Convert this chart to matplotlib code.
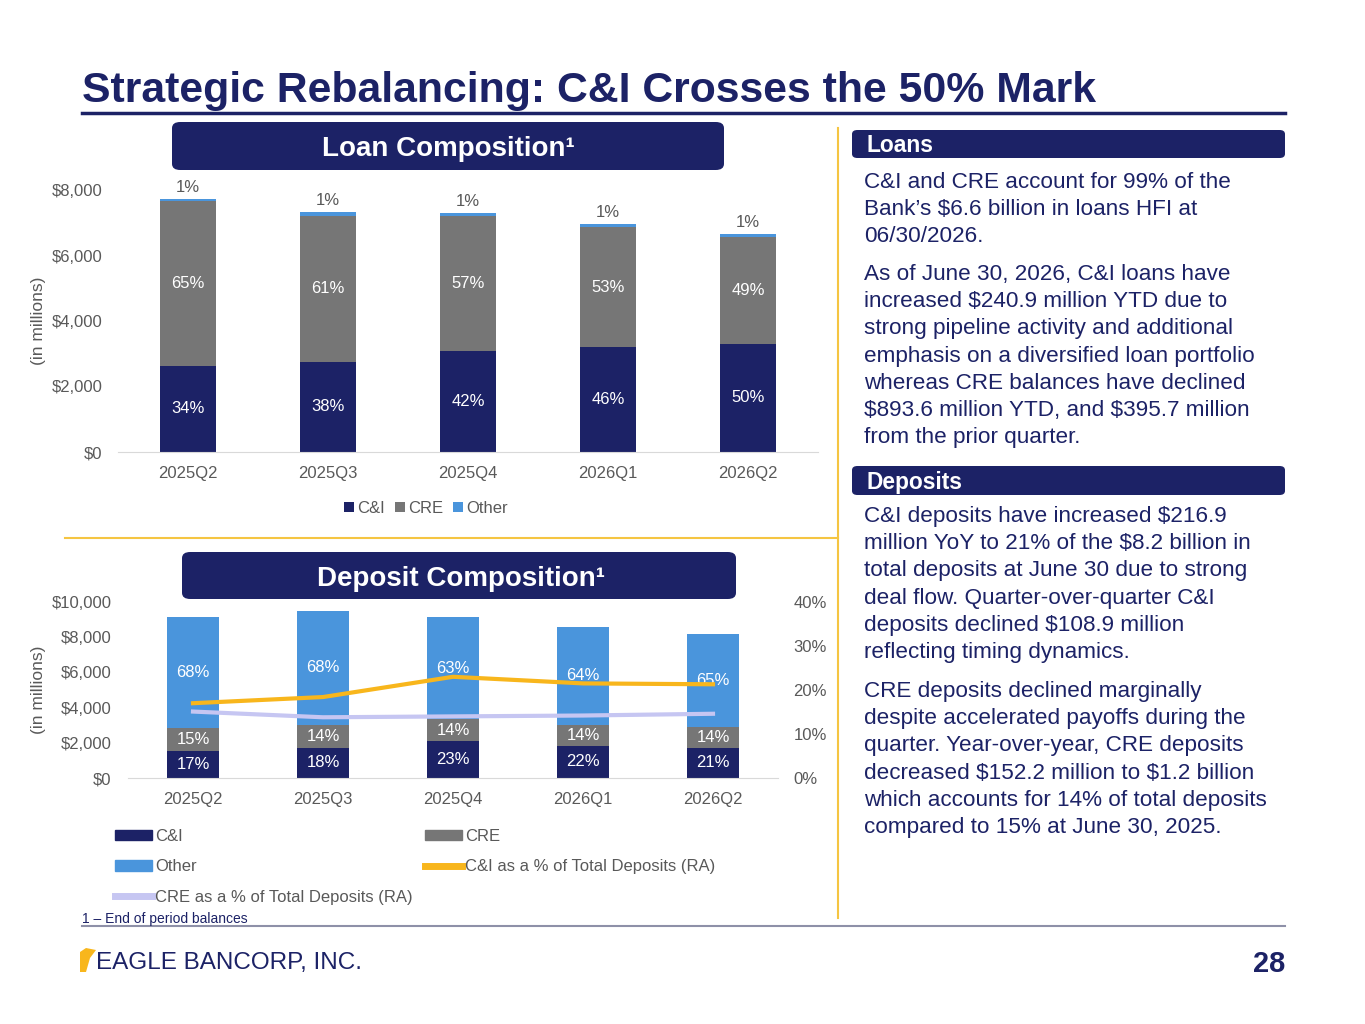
import numpy as np
import matplotlib
matplotlib.use("Agg")
import matplotlib.pyplot as plt
from matplotlib.patches import FancyBboxPatch, Patch, Polygon
from matplotlib.lines import Line2D

# data
quarters = ["2025Q2", "2025Q3", "2025Q4", "2026Q1", "2026Q2"]

loan_ci = [2640, 2760, 3070, 3210, 3300]
loan_cre = [5010, 4450, 4140, 3650, 3250]
loan_other = [80, 110, 80, 90, 100]
loan_ci_lbl = ["34%", "38%", "42%", "46%", "50%"]
loan_cre_lbl = ["65%", "61%", "57%", "53%", "49%"]
loan_other_lbl = ["1%", "1%", "1%", "1%", "1%"]

dep_ci = [1520, 1730, 2085, 1840, 1730]
dep_cre = [1320, 1280, 1270, 1170, 1170]
dep_other = [6290, 6480, 5780, 5590, 5300]
dep_ci_lbl = ["17%", "18%", "23%", "22%", "21%"]
dep_cre_lbl = ["15%", "14%", "14%", "14%", "14%"]
dep_other_lbl = ["68%", "68%", "63%", "64%", "65%"]
ci_pct = [17.0, 18.4, 23.0, 21.5, 21.3]
cre_pct = [15.1, 13.8, 14.0, 14.2, 14.6]

NAVY = "#1c2266"
GRAY = "#767676"
BLUE = "#4a95dc"
GOLD = "#f8b61c"
LAV = "#c6c6f2"
TXT = "#595959"
FONT = "Liberation Sans"

plt.rcParams["font.family"] = FONT

W, H = 1365, 1024
fig = plt.figure(figsize=(W / 100, H / 100), dpi=100)


def fx(x):
    return x / W


def fy(y):
    return 1 - y / H


def ftext(x, y, s, **kw):
    fig.text(fx(x), fy(y), s, **kw)


# title and rules
ftext(82, 102, "Strategic Rebalancing: C&I Crosses the 50% Mark", fontsize=30.8,
      fontweight="bold", color=NAVY, va="baseline")
fig.add_artist(Line2D([fx(82), fx(1285)], [fy(113), fy(113)], color=NAVY, lw=2.5))
fig.add_artist(Line2D([fx(838), fx(838)], [fy(128), fy(918)], color="#f5c542", lw=1.5))
fig.add_artist(Line2D([fx(65), fx(838)], [fy(538), fy(538)], color="#f5c542", lw=1.5))
fig.add_artist(Line2D([fx(82), fx(1285)], [fy(926), fy(926)], color="#8e90a8", lw=1.5))


def navy_box(x0, y0, x1, y1, r=0.006):
    fig.add_artist(FancyBboxPatch((fx(x0), fy(y1)), fx(x1 - x0), (y1 - y0) / H,
                                  boxstyle="round,pad=0,rounding_size=%f" % r,
                                  fc=NAVY, ec="none", transform=fig.transFigure))


navy_box(172, 122, 724, 170)
ftext(448, 156, "Loan Composition\u00b9", fontsize=20, fontweight="bold", color="white",
      ha="center", va="baseline")
navy_box(182, 552, 736, 599)
ftext(461, 586, "Deposit Composition\u00b9", fontsize=20, fontweight="bold", color="white",
      ha="center", va="baseline")

# ---- loan chart
x = np.arange(len(quarters))
ax1 = fig.add_axes([fx(118), fy(452), fx(700), 262 / H])
b1 = ax1.bar(x, loan_ci, 0.4, color=NAVY, label="C&I")
b2 = ax1.bar(x, loan_cre, 0.4, bottom=loan_ci, color=GRAY, label="CRE")
bot = np.array(loan_ci) + np.array(loan_cre)
b3 = ax1.bar(x, loan_other, 0.4, bottom=bot, color=BLUE, label="Other")
ax1.bar_label(b1, labels=loan_ci_lbl, label_type="center", color="white", fontsize=12)
ax1.bar_label(b2, labels=loan_cre_lbl, label_type="center", color="white", fontsize=12)
ax1.bar_label(b3, labels=loan_other_lbl, padding=3, color=TXT, fontsize=12)
ax1.set_xlim(-0.5, 4.5)
ax1.set_ylim(0, 8000)
ax1.set_yticks([0, 2000, 4000, 6000, 8000])
ax1.set_yticklabels(["$0", "$2,000", "$4,000", "$6,000", "$8,000"])
ax1.set_xticks(x)
ax1.set_xticklabels(quarters)
ax1.set_ylabel("(in millions)", fontsize=12.5, color=TXT, labelpad=4)
ax1.legend(loc="upper center", bbox_to_anchor=(0.44, -0.13), ncol=3, frameon=False,
           handlelength=0.6, handleheight=0.6, handletextpad=0.2, columnspacing=0.6,
           prop={"size": 12}, labelcolor=TXT)

# ---- deposit chart
ax2 = fig.add_axes([fx(128), fy(778), fx(650), 176 / H])
d1 = ax2.bar(x, dep_ci, 0.4, color=NAVY, label="C&I")
d2 = ax2.bar(x, dep_cre, 0.4, bottom=dep_ci, color=GRAY, label="CRE")
dbot = np.array(dep_ci) + np.array(dep_cre)
d3 = ax2.bar(x, dep_other, 0.4, bottom=dbot, color=BLUE, label="Other")
ax2.bar_label(d1, labels=dep_ci_lbl, label_type="center", color="white", fontsize=12)
ax2.bar_label(d2, labels=dep_cre_lbl, label_type="center", color="white", fontsize=12)
ax2.bar_label(d3, labels=dep_other_lbl, label_type="center", color="white", fontsize=12)
ax2.set_xlim(-0.5, 4.5)
ax2.set_ylim(0, 10000)
ax2.set_yticks([0, 2000, 4000, 6000, 8000, 10000])
ax2.set_yticklabels(["$0", "$2,000", "$4,000", "$6,000", "$8,000", "$10,000"])
ax2.set_xticks(x)
ax2.set_xticklabels(quarters)
ax2.set_ylabel("(in millions)", fontsize=12.5, color=TXT, labelpad=4)

ax3 = ax2.twinx()
l1, = ax3.plot(x, ci_pct, color=GOLD, lw=3, label="C&I as a % of Total Deposits (RA)")
l2, = ax3.plot(x, cre_pct, color=LAV, lw=3, label="CRE as a % of Total Deposits (RA)")
ax3.set_ylim(0, 40)
ax3.set_yticks([0, 10, 20, 30, 40])
ax3.set_yticklabels(["0%", "10%", "20%", "30%", "40%"])

for ax in (ax1, ax2, ax3):
    for s in ("top", "right", "left"):
        ax.spines[s].set_visible(False)
    ax.spines["bottom"].set_color("#d9d9d9")
    ax.tick_params(length=0, colors=TXT, labelsize=12)
ax1.tick_params(axis="x", pad=10)
ax1.tick_params(axis="y", pad=11)
ax2.tick_params(axis="x", pad=10)
ax2.tick_params(axis="y", pad=12)
ax3.spines["bottom"].set_visible(False)
ax3.tick_params(axis="y", pad=11)

leg_kw = dict(frameon=False, handlelength=2.2, handleheight=0.6, handletextpad=0.2,
              labelspacing=0.92, prop={"size": 12}, labelcolor=TXT)
h_ci = Patch(color=NAVY)
h_ot = Patch(color=BLUE)
h_cre = Patch(color=GRAY)
fig.legend([h_ci, h_ot, Line2D([], [], color=LAV, lw=5)],
           ["C&I", "Other", "CRE as a % of Total Deposits (RA)"],
           loc="upper left", bbox_to_anchor=(fx(100), fy(814)), **leg_kw)
fig.legend([h_cre, Line2D([], [], color=GOLD, lw=5)],
           ["CRE", "C&I as a % of Total Deposits (RA)"],
           loc="upper left", bbox_to_anchor=(fx(410), fy(814)), **leg_kw)

ftext(82, 923, "1 \u2013 End of period balances", fontsize=10, color=NAVY, va="baseline")

# ---- right panel
navy_box(852, 130, 1285, 158, r=0.004)
ftext(866, 152, "Loans", fontsize=16.4, fontweight="bold", color="white", va="baseline")
navy_box(852, 466, 1285, 495, r=0.004)
ftext(866, 489, "Deposits", fontsize=16.4, fontweight="bold", color="white", va="baseline")

loans_p1 = ["C&I and CRE account for 99% of the",
            "Bank\u2019s $6.6 billion in loans HFI at",
            "06/30/2026."]
loans_p2 = ["As of June 30, 2026, C&I loans have",
            "increased $240.9 million YTD due to",
            "strong pipeline activity and additional",
            "emphasis on a diversified loan portfolio",
            "whereas CRE balances have declined",
            "$893.6 million YTD, and $395.7 million",
            "from the prior quarter."]
dep_p1 = ["C&I deposits have increased $216.9",
          "million YoY to 21% of the $8.2 billion in",
          "total deposits at June 30 due to strong",
          "deal flow. Quarter-over-quarter C&I",
          "deposits declined $108.9 million",
          "reflecting timing dynamics."]
dep_p2 = ["CRE deposits declined marginally",
          "despite accelerated payoffs during the",
          "quarter. Year-over-year, CRE deposits",
          "decreased $152.2 million to $1.2 billion",
          "which accounts for 14% of total deposits",
          "compared to 15% at June 30, 2025."]

for lines, y0 in ((loans_p1, 188), (loans_p2, 280), (dep_p1, 522), (dep_p2, 697)):
    for i, s in enumerate(lines):
        ftext(864, y0 + i * 27.2, s.replace("$", r"\$"), fontsize=16.2, color=NAVY,
              va="baseline")

# ---- footer logo and page number
fig.add_artist(Polygon([[fx(80), fy(972)], [fx(80), fy(952)], [fx(86), fy(948)],
                        [fx(96), fy(950)], [fx(90), fy(958)], [fx(86), fy(972)]],
                       closed=True, fc=GOLD, ec="none", transform=fig.transFigure))
ftext(96, 969, "EAGLE BANCORP, INC.", fontsize=17.5, color=NAVY, va="baseline")
ftext(1285, 972, "28", fontsize=21, fontweight="bold", color=NAVY, ha="right",
      va="baseline")

fig.savefig("out.png", dpi=100)
